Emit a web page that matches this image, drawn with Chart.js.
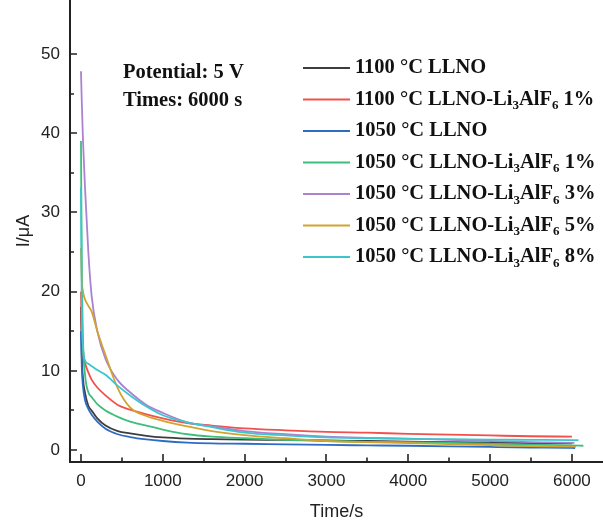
<!DOCTYPE html>
<html><head><meta charset="utf-8">
<script src="https://cdn.jsdelivr.net/npm/chart.js@4"></script>
<style>html,body{margin:0;padding:0;background:#fff}canvas{display:block}</style>
</head><body>
<canvas id="c" width="603" height="523"></canvas>
<script>
// ---- data ----
const times = [0, 10, 25, 50, 90, 130, 200, 300, 450, 600, 800, 1000, 1300, 1600, 2000, 2500, 3000, 3500, 4000, 4500, 5000, 5500, 6000];
const seriesLabels = [
  "1100 °C LLNO",
  "1100 °C LLNO-Li₃AlF₆ 1%",
  "1050 °C LLNO",
  "1050 °C LLNO-Li₃AlF₆ 1%",
  "1050 °C LLNO-Li₃AlF₆ 3%",
  "1050 °C LLNO-Li₃AlF₆ 5%",
  "1050 °C LLNO-Li₃AlF₆ 8%"
];
const llno1100      = [18.1, 12, 9, 7.2, 5.6, 5.0, 4.0, 3.1, 2.4, 2.1, 1.8, 1.6, 1.45, 1.38, 1.32, 1.28, 1.22, 1.15, 1.08, 1.0, 0.95, 0.9, 0.85];
const llnoLaf1100_1 = [20, 15, 12.5, 11, 9.8, 8.9, 7.9, 6.9, 5.7, 5.1, 4.5, 4.0, 3.4, 3.1, 2.75, 2.5, 2.3, 2.2, 2.05, 1.95, 1.85, 1.75, 1.7];
const llno1050      = [15, 10.5, 8.0, 6.3, 5.2, 4.5, 3.6, 2.7, 2.0, 1.65, 1.35, 1.15, 0.95, 0.85, 0.8, 0.72, 0.65, 0.6, 0.55, 0.48, 0.4, 0.33, 0.28];
const llnoLaf1050_1 = [39, 24, 14, 9.5, 7.3, 6.7, 5.8, 5.0, 4.2, 3.6, 3.1, 2.6, 2.0, 1.7, 1.5, 1.3, 1.15, 1.05, 1.0, 0.9, 0.8, 0.7, 0.6];
const llnoLaf1050_3 = [47.8, 44, 39, 33, 25, 19.5, 15, 11.5, 8.8, 7.3, 5.7, 4.7, 3.5, 3.0, 2.4, 2.0, 1.7, 1.55, 1.45, 1.3, 1.15, 1.0, 0.92];
const llnoLaf1050_5 = [25.5, 21.5, 20, 19, 18.2, 17.5, 15.0, 12.0, 7.8, 5.4, 4.3, 3.7, 3.0, 2.4, 1.9, 1.5, 1.15, 1.0, 0.9, 0.75, 0.62, 0.5, 0.45];
const llnoLaf1050_8 = [33.2, 18, 13, 11.3, 10.9, 10.6, 10.1, 9.5, 8.1, 6.9, 5.5, 4.4, 3.5, 2.9, 2.2, 1.85, 1.6, 1.5, 1.42, 1.38, 1.33, 1.3, 1.27];
const endTimes  = [6000, 6000, 6040, 6140, 6030, 6050, 6080];
const endValues = [0.85, 1.7, 0.26, 0.55, 0.9, 0.45, 1.25];
const seriesColors = ["#3d3d3d", "#f2504c", "#2e6cc4", "#3dbf7c", "#a982d2", "#d2a330", "#3cc6cc"];
const xTicks = [0, 1000, 2000, 3000, 4000, 5000, 6000];
const xMinorTicks = [500, 1500, 2500, 3500, 4500, 5500];
const yTicks = [0, 10, 20, 30, 40, 50];
const yMinorTicks = [5, 15, 25, 35, 45];
const noteLines = ["Potential: 5 V", "Times: 6000 s"];

const seriesValues = [llno1100, llnoLaf1100_1, llno1050, llnoLaf1050_1, llnoLaf1050_3, llnoLaf1050_5, llnoLaf1050_8];

const datasets = seriesValues.map((vals, i) => {
  const pts = times.map((t, k) => ({x: t, y: vals[k]}));
  if (endTimes[i] > times[times.length - 1]) pts.push({x: endTimes[i], y: endValues[i]});
  return {
    label: seriesLabels[i],
    data: pts,
    borderColor: seriesColors[i],
    backgroundColor: seriesColors[i],
    borderWidth: 1.8,
    pointRadius: 0,
    cubicInterpolationMode: 'monotone',
    order: seriesValues.length - i
  };
});

const SERIF = "'Liberation Serif','Times New Roman',serif";
const SANS = "'Liberation Sans',Arial,sans-serif";
function drawRich(ctx, text, x, y, size) {
  const subMap = {'₀':'0','₁':'1','₂':'2','₃':'3','₄':'4','₅':'5','₆':'6','₇':'7','₈':'8','₉':'9'};
  const normal = `bold ${size}px ${SERIF}`;
  const small = `bold ${Math.round(size * 0.65)}px ${SERIF}`;
  let run = '';
  const flush = () => {
    if (!run) return;
    ctx.font = normal;
    ctx.fillText(run, x, y);
    x += ctx.measureText(run).width;
    run = '';
  };
  for (const ch of text) {
    if (subMap[ch]) {
      flush();
      ctx.font = small;
      ctx.fillText(subMap[ch], x, y + size * 0.3);
      x += ctx.measureText(subMap[ch]).width;
    } else run += ch;
  }
  flush();
}

const decorPlugin = {
  id: 'decor',
  afterDraw(chart) {
    const ctx = chart.ctx;
    const xs = chart.scales.x, ys = chart.scales.y;
    const ca = chart.chartArea;
    ctx.save();
    // inward ticks
    ctx.strokeStyle = '#222';
    ctx.lineWidth = 1.6;
    ctx.beginPath();
    xTicks.forEach(v => { const px = Math.round(xs.getPixelForValue(v)); ctx.moveTo(px, ca.bottom); ctx.lineTo(px, ca.bottom - 8); });
    xMinorTicks.forEach(v => { const px = Math.round(xs.getPixelForValue(v)); ctx.moveTo(px, ca.bottom); ctx.lineTo(px, ca.bottom - 4.5); });
    yTicks.forEach(v => { const py = Math.round(ys.getPixelForValue(v)); ctx.moveTo(ca.left, py); ctx.lineTo(ca.left + 7, py); });
    yMinorTicks.forEach(v => { const py = Math.round(ys.getPixelForValue(v)); ctx.moveTo(ca.left, py); ctx.lineTo(ca.left + 4, py); });
    ctx.stroke();

    // legend
    ctx.textBaseline = 'middle';
    ctx.textAlign = 'left';
    chart.data.datasets.forEach((ds, i) => {
      const y = 68 + i * 31.5;
      ctx.strokeStyle = ds.borderColor;
      ctx.lineWidth = 2;
      ctx.beginPath();
      ctx.moveTo(303, y);
      ctx.lineTo(350, y);
      ctx.stroke();
      ctx.fillStyle = '#111';
      drawRich(ctx, ds.label, 355, y, 20.5);
    });
    // annotation
    ctx.fillStyle = '#111';
    noteLines.forEach((t, i) => drawRich(ctx, t, 123, 73 + i * 27.5, 20.5));
    ctx.restore();
  }
};

new Chart(document.getElementById('c'), {
  type: 'line',
  data: { datasets },
  options: {
    responsive: false,
    devicePixelRatio: 1,
    animation: false,
    layout: { padding: 0 },
    plugins: { legend: { display: false }, tooltip: { enabled: false } },
    scales: {
      x: {
        type: 'linear',
        min: -134, max: 6380,
        afterBuildTicks: s => { s.ticks = xTicks.map(v => ({value: v})); },
        afterFit: s => { s.height = 61; s.paddingLeft = 0; s.paddingRight = 0; },
        grid: { display: false, drawTicks: false },
        border: { display: true, color: '#222', width: 2 },
        ticks: { padding: 9, color: '#222', font: { family: SANS, size: 17 }, maxRotation: 0, autoSkip: false, callback: v => String(v) },
        title: { display: true, text: 'Time/s', color: '#222', font: { family: SANS, size: 18 }, padding: { top: 4, bottom: 0 } }
      },
      y: {
        type: 'linear',
        min: -1.5, max: 56.8,
        afterBuildTicks: s => { s.ticks = yTicks.map(v => ({value: v})); },
        afterFit: s => { s.width = 70; s.paddingTop = 0; s.paddingBottom = 0; },
        grid: { display: false, drawTicks: false },
        border: { display: true, color: '#222', width: 2 },
        ticks: { padding: 10, color: '#222', font: { family: SANS, size: 17 }, autoSkip: false, callback: v => String(v) },
        title: { display: true, text: 'I/μA', color: '#222', font: { family: SANS, size: 18 }, padding: { top: 13, bottom: 0 } }
      }
    }
  },
  plugins: [decorPlugin]
});
</script>
</body></html>
